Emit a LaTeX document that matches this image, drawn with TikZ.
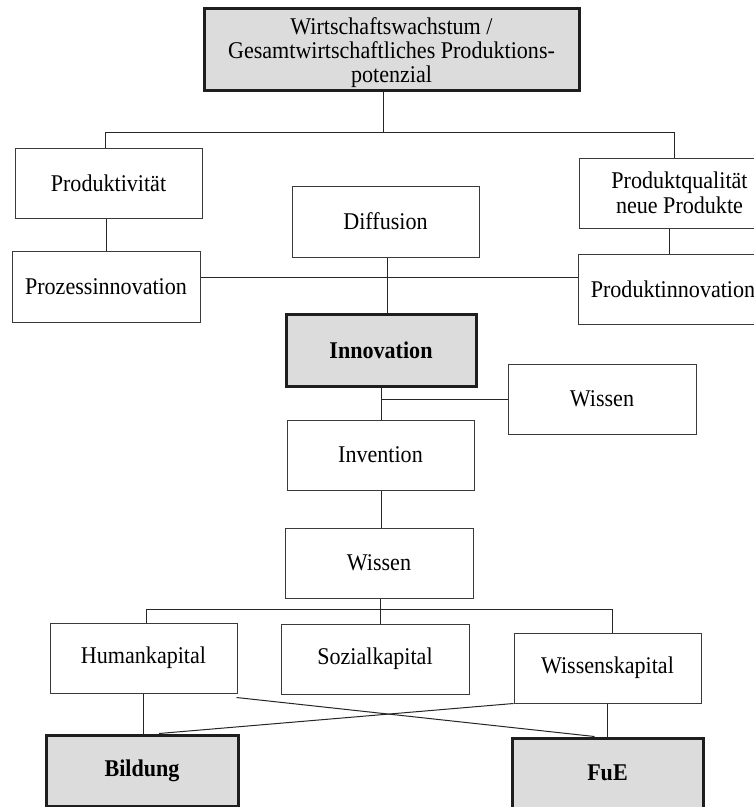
\documentclass[tikz,border=0pt]{standalone}
\usepackage{fontspec}
\setmainfont[FakeStretch=0.92]{Liberation Serif}
\usetikzlibrary{calc}
\definecolor{boxgray}{HTML}{DCDCDC}
\definecolor{edgegray}{HTML}{3A3A3A}
\definecolor{keyedge}{HTML}{1E1E1E}
\begin{document}
\begin{tikzpicture}[x=1pt,y=-1pt,
  plain/.style={draw=edgegray, line width=1pt, fill=white, inner sep=0pt, align=center,
    font=\fontsize{24}{24.5}\selectfont},
  keybox/.style={draw=keyedge, line width=3pt, fill=boxgray, inner sep=0pt, align=center,
    font=\fontsize{24}{24.5}\selectfont\bfseries},
  link/.style={draw=black!85, line width=1pt}]
\fill[white] (0,0) rectangle (754,807);
\useasboundingbox (0,0) rectangle (754,807);

% nodes
\node[keybox, font=\fontsize{24}{24}\selectfont, minimum width=375pt, minimum height=82pt] (wirt) at (391.5,49)
  {\rule{0pt}{25pt}Wirtschaftswachstum /\\Gesamtwirtschaftliches Produktions-\\potenzial};
\node[plain, minimum width=187pt, minimum height=70pt] (prodv) at (108.5,183) {Produktivität};
\node[plain, minimum width=188pt, minimum height=71pt] (proz) at (106,286.5) {Prozessinnovation};
\node[plain, minimum width=187pt, minimum height=71pt] (diff) at (385.5,221.5) {Diffusion};
\node[plain, minimum width=201pt, minimum height=70pt] (qual) at (679.5,193) {Produktqualität\\neue Produkte};
\node[plain, minimum width=190pt, minimum height=70pt] (pinn) at (673,289) {Produktinnovation};
\node[keybox, minimum width=190pt, minimum height=72pt] (inno) at (381,350) {Innovation};
\node[plain, minimum width=188pt, minimum height=70pt] (wis1) at (602,399) {Wissen};
\node[plain, minimum width=187pt, minimum height=70pt] (inv) at (380.5,455) {Invention};
\node[plain, minimum width=188pt, minimum height=70pt] (wis2) at (379,563) {Wissen};
\node[plain, minimum width=187pt, minimum height=70pt] (hum) at (143.5,658) {Humankapital};
\node[plain, minimum width=188pt, minimum height=70pt] (soz) at (375,659) {Sozialkapital};
\node[plain, minimum width=187pt, minimum height=70pt] (wk) at (607.5,668) {Wissenskapital};
\node[keybox, minimum width=192pt, minimum height=71pt] (bild) at (142,770.5) {Bildung};
\node[keybox, minimum width=191pt, minimum height=70pt] (fue) at (607.5,773) {FuE};

% junction coordinates
\coordinate (t1) at (383,132);
\coordinate (b1) at (105,132);
\coordinate (b2) at (674,132);
\coordinate (h1) at (387,277);
\coordinate (q1) at (669,240);
\coordinate (m1) at (380,609);
\coordinate (b3) at (146,609);
\coordinate (b4) at (612,609);

% top tree
\draw[link] (wirt.south -| t1) -- (t1);
\draw[link] (prodv.north -| b1) -- (b1) -- (b2) -- (qual.north -| b2);
\draw[link] (proz.north) -- (proz.north |- prodv.south);
\draw[link] (proz.east |- h1) -- (pinn.west |- h1);
\draw[link] (diff.south -| h1) -- (inno.north -| h1);
\draw[link] (qual.south -| q1) -- (pinn.north -| q1);

% middle
\draw[link] (inno.south) -- (inv.north -| inno.south);
\draw[link] (wis1.west) -- (wis1.west -| inno.south);
\draw[link] (inv.south -| inno.south) -- (wis2.north -| inno.south);

% lower tree
\draw[link] (wis2.south -| m1) -- (soz.north -| m1);
\draw[link] (hum.north -| b3) -- (b3) -- (b4) -- (wk.north -| b4);
\draw[link] (hum.south) -- (bild.north -| hum.south);
\draw[link] (wk.south) -- (fue.north -| wk.south);
\draw[link] ($(hum.south east)+(-1,4)$) -- ($(fue.north)+(-13,0)$);
\draw[link] (wk.south west) -- ($(bild.north)+(17,0)$);
\end{tikzpicture}
\end{document}
